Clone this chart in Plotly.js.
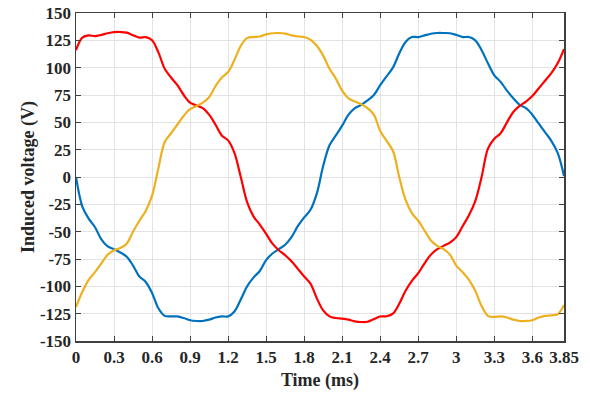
<!DOCTYPE html>
<html>
<head>
<meta charset="utf-8">
<script src="https://cdn.plot.ly/plotly-3.0.1.min.js"></script>
<style>
  html, body { margin: 0; padding: 0; background: #ffffff; }
  #chart { width: 590px; height: 395px; }
</style>
</head>
<body>
<div id="chart"></div>
<script>
// Sample times (ms) over one electrical period
const timeMs = [
  0.00, 0.05, 0.10, 0.15, 0.20, 0.25, 0.30, 0.35, 0.40, 0.45,
  0.50, 0.55, 0.60, 0.65, 0.70, 0.75, 0.80, 0.85, 0.90, 0.95,
  1.00, 1.05, 1.10, 1.15, 1.20, 1.25, 1.30, 1.35, 1.40, 1.45,
  1.50, 1.55, 1.60, 1.65, 1.70, 1.75, 1.80, 1.85, 1.90, 1.95,
  2.00, 2.05, 2.10, 2.15, 2.20, 2.25, 2.30, 2.35, 2.40, 2.45,
  2.50, 2.55, 2.60, 2.65, 2.70, 2.75, 2.80, 2.85, 2.90, 2.95,
  3.00, 3.05, 3.10, 3.15, 3.20, 3.25, 3.30, 3.35, 3.40, 3.45,
  3.50, 3.55, 3.60, 3.65, 3.70, 3.75, 3.80, 3.85
];

// Phase voltages (V)
const phaseA = [
  0, -27, -38, -46, -57, -63.5, -66, -69, -73, -81,
  -91, -96, -106, -120, -127, -127.5, -127.5, -129, -131, -131.7,
  -131.7, -130.5, -128.5, -127.5, -127.5, -123, -112, -100, -92, -86,
  -76, -70, -66, -62, -55, -45, -37, -30, -15, 10,
  29, 38, 47, 57, 63, 66, 70, 75, 84, 92,
  100, 113, 123.5, 128, 128, 129.5, 131, 131.7, 131.7, 131.5,
  130, 128, 128, 125, 116, 104, 93, 87, 79, 72,
  66, 63, 57, 49, 41, 33, 22, 1
];

const phaseB = [
  116, 127.5, 129.5, 128.8, 130, 131.5, 132.5, 132.6, 132, 129.6,
  127.5, 128, 125, 114, 99, 91, 84, 75, 68, 65.5,
  63, 57, 48, 38, 33.5, 22, 0, -23, -36, -43.5,
  -52, -61, -67, -71.6, -77, -84, -91, -97.5, -111, -122,
  -127.5, -129, -129.6, -130.5, -132, -132.6, -132.4, -130, -127.6, -127.4,
  -125, -116, -104, -95, -88, -79, -71, -66, -63, -60,
  -55, -45, -35, -22, 0, 26, 35, 40, 50, 59.5,
  65, 69, 74, 81, 88, 95, 104, 117
];

const phaseC = [
  -119, -105, -94, -87, -79, -71, -67, -65, -61, -50,
  -40, -31, -17, 8, 32, 40, 48, 56, 62, 65,
  68, 73, 83, 91, 96, 107, 120, 127, 128, 128.5,
  130.5, 131.5, 131.7, 131.2, 129.5, 128.5, 128, 125.5, 120, 111,
  99, 90, 79, 72, 69, 66.5, 63, 57, 42, 33,
  24, 0, -21, -33, -40, -49, -58, -63, -66, -71,
  -81, -87, -94, -104, -118, -127, -128, -127.5, -128.5, -130.5,
  -131.7, -131.7, -131, -128.5, -127, -126.5, -125.5, -117
];

const xTickVals = [0, 0.3, 0.6, 0.9, 1.2, 1.5, 1.8, 2.1, 2.4, 2.7, 3.0, 3.3, 3.6, 3.85];
const xTickText = ['0', '0.3', '0.6', '0.9', '1.2', '1.5', '1.8', '2.1', '2.4', '2.7', '3', '3.3', '3.6', '3.85'];
const yTickVals = [-150, -125, -100, -75, -50, -25, 0, 25, 50, 75, 100, 125, 150];
const yTickText = ['-150', '-125', '-100', '-75', '-50', '-25', '0', '25', '50', '75', '100', '125', '150'];

const seriesColors = ['#0072BD', '#FF0000', '#EDB120'];
const seriesData = [phaseA, phaseB, phaseC];

const traces = seriesData.map((vals, i) => ({
  x: timeMs,
  y: vals,
  type: 'scatter',
  mode: 'lines',
  line: { color: seriesColors[i], width: 2.2, shape: 'spline', smoothing: 1 },
  hoverinfo: 'x+y'
}));

const fontFamily = '"Liberation Serif", "Times New Roman", serif';

const axisCommon = {
  showline: true,
  linecolor: '#404040',
  linewidth: 1.5,
  mirror: 'ticks',
  ticks: 'inside',
  ticklen: 5,
  tickwidth: 1,
  tickcolor: '#404040',
  showgrid: true,
  gridcolor: '#e3e3e3',
  gridwidth: 1,
  zeroline: false,
  tickfont: { family: fontFamily, size: 17, color: '#262626', weight: 'bold' }
};

const layout = {
  width: 590,
  height: 395,
  margin: { l: 76, r: 26, t: 13, b: 54 },
  paper_bgcolor: '#ffffff',
  plot_bgcolor: '#ffffff',
  showlegend: false,
  xaxis: Object.assign({}, axisCommon, {
    range: [0, 3.85],
    tickmode: 'array',
    tickvals: xTickVals,
    ticktext: xTickText,
    title: { text: 'Time (ms)', font: { family: fontFamily, size: 18, color: '#262626', weight: 'bold' }, standoff: 7 }
  }),
  yaxis: Object.assign({}, axisCommon, {
    range: [-150, 150],
    tickmode: 'array',
    tickvals: yTickVals,
    ticktext: yTickText,
    title: { text: 'Induced voltage (V)', font: { family: fontFamily, size: 18, color: '#262626', weight: 'bold' }, standoff: 0 }
  })
};

Plotly.newPlot('chart', traces, layout, { displayModeBar: false, staticPlot: true });
</script>
</body>
</html>
